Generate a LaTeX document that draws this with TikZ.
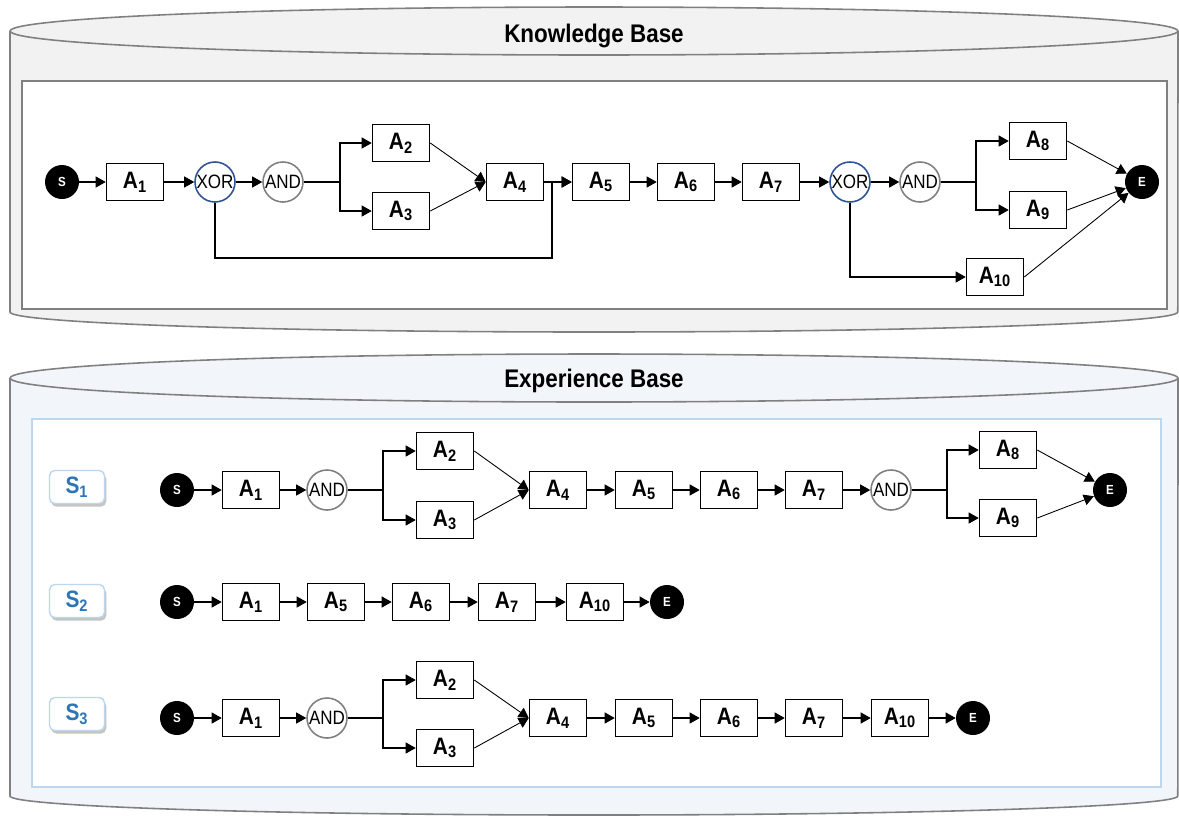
\documentclass[tikz,border=0pt]{standalone}
\usepackage{fontspec}
\setmainfont{Liberation Sans}[FakeStretch=0.88]
\usepackage{tikz}
\usetikzlibrary{positioning,arrows.meta,shadows}
\definecolor{kbgray}{RGB}{242,242,242}
\definecolor{ebblue}{RGB}{242,246,251}
\definecolor{rimgray}{RGB}{128,128,128}
\definecolor{paneblue}{RGB}{189,215,238}
\definecolor{xorblue}{RGB}{47,84,150}
\definecolor{tagblue}{RGB}{46,117,182}
\newcommand{\actv}[1]{A\textsubscript{#1}}

\begin{document}
\begin{tikzpicture}[x=0.02cm, y=-0.02cm, act/.style={draw, fill=white, line width=0.9pt, minimum width=1.14cm, minimum height=0.74cm, inner sep=0pt, font=\fontsize{13.5}{15}\selectfont\bfseries}, gate/.style={circle, draw=rimgray, fill=white, line width=0.9pt, minimum size=0.8cm, inner sep=0pt, font=\fontsize{11}{12}\selectfont}, xorgate/.style={gate, draw=xorblue}, term/.style={circle, fill=black, text=white, minimum size=0.68cm, inner sep=0pt, font=\fontsize{7.5}{8}\selectfont\bfseries}, flow/.style={-{Triangle[length=2mm,width=2.2mm]}, line width=0.6pt}, link/.style={line width=0.6pt}, slant/.style={flow, line width=0.5pt}, tag/.style={draw=paneblue, fill=white, rounded corners=3pt, line width=0.8pt, minimum width=1.1cm, minimum height=0.66cm, text=tagblue, font=\fontsize{13.5}{15}\selectfont\bfseries, drop shadow={shadow xshift=1pt, shadow yshift=-1.8pt, fill=black!45}}, title/.style={anchor=base, font=\fontsize{14.5}{16}\selectfont\bfseries}]
\useasboundingbox (0,0) rectangle (1179,816);

% knowledge base cylinder
\fill[kbgray] (10,31) -- (10,312) arc[start angle=180, end angle=360, x radius=11.68cm, y radius=0.4cm] -- (1178,31) arc[start angle=0, end angle=180, x radius=11.68cm, y radius=0.48cm] -- cycle;
\draw[rimgray, line width=0.9pt] (10,31) -- (10,312) arc[start angle=180, end angle=360, x radius=11.68cm, y radius=0.4cm] -- (1178,31);
\draw[rimgray, line width=0.9pt] (594,31) ellipse[x radius=11.68cm, y radius=0.48cm];
\node[title] (kbtitle) at (594,42) {Knowledge Base};
\draw[rimgray, fill=white, line width=0.9pt] (22,81) rectangle (1167,309);

% experience base cylinder
\fill[ebblue] (10,378) -- (10,796) arc[start angle=180, end angle=360, x radius=11.68cm, y radius=0.38cm] -- (1178,378) arc[start angle=0, end angle=180, x radius=11.68cm, y radius=0.48cm] -- cycle;
\draw[rimgray, line width=0.9pt] (10,378) -- (10,796) arc[start angle=180, end angle=360, x radius=11.68cm, y radius=0.38cm] -- (1178,378);
\draw[rimgray, line width=0.9pt] (594,378) ellipse[x radius=11.68cm, y radius=0.48cm];
\node[title] (ebtitle) at (594,387) {Experience Base};
\draw[paneblue, fill=white, line width=1pt] (32,419) rectangle (1161,787);

% knowledge base process
\node[term] (ks) at (62,182) {S};
\node[act] (ka1) at (135,182) {\actv{1}};
\node[xorgate] (kxor1) at (215,182) {XOR};
\node[gate] (kand1) at (283,182) {AND};
\coordinate (ksplit1) at (340,182);
\node[act] (ka2) at (401,143) {\actv{2}};
\node[act] (ka3) at (401,211) {\actv{3}};
\node[act] (ka4) at (515,182) {\actv{4}};
\node[act] (ka5) at (601,182) {\actv{5}};
\node[act] (ka6) at (686,182) {\actv{6}};
\node[act] (ka7) at (771,182) {\actv{7}};
\node[xorgate] (kxor2) at (850,182) {XOR};
\node[gate] (kand2) at (920,182) {AND};
\coordinate (ksplit2) at (976,182);
\node[act] (ka8) at (1038,141) {\actv{8}};
\node[act] (ka9) at (1038,210) {\actv{9}};
\node[act] (ka10) at (995,277) {\actv{10}};
\node[term] (ke) at (1142,182) {E};
\coordinate (kbyp) at (552,258);
\draw[flow] (ks) -- (ka1);
\draw[flow] (ka1) -- (kxor1);
\draw[flow] (kxor1) -- (kand1);
\draw[link] (kand1) -- (ksplit1);
\draw[flow] (ksplit1) |- (ka2);
\draw[flow] (ksplit1) |- (ka3);
\draw[slant] (ka2.east) -- (ka4.west);
\draw[slant] (ka3.east) -- (ka4.west);
\draw[flow] (ka4) -- (ka5);
\draw[flow] (kxor1) |- (kbyp) |- (ka5.west);
\draw[flow] (ka5) -- (ka6);
\draw[flow] (ka6) -- (ka7);
\draw[flow] (ka7) -- (kxor2);
\draw[flow] (kxor2) -- (kand2);
\draw[link] (kand2) -- (ksplit2);
\draw[flow] (ksplit2) |- (ka8);
\draw[flow] (ksplit2) |- (ka9);
\draw[flow] (kxor2) |- (ka10);
\draw[slant] (ka8.east) -- (ke);
\draw[slant] (ka9.east) -- (ke);
\draw[slant] (ka10.east) -- (ke);

% scenario tags
\node[tag] (tag1) at (77,487) {S\textsubscript{1}};
\node[tag] (tag2) at (77,601) {S\textsubscript{2}};
\node[tag] (tag3) at (77,714) {S\textsubscript{3}};

% scenario 1
\node[term] (us) at (177,490) {S};
\node[act] (ua1) at (251,490) {\actv{1}};
\node[gate] (uand1) at (327,490) {AND};
\coordinate (usplit1) at (383,490);
\node[act] (ua2) at (445,451) {\actv{2}};
\node[act] (ua3) at (445,520) {\actv{3}};
\node[act] (ua4) at (558,490) {\actv{4}};
\node[act] (ua5) at (644,490) {\actv{5}};
\node[act] (ua6) at (729,490) {\actv{6}};
\node[act] (ua7) at (814,490) {\actv{7}};
\node[gate] (uand2) at (891,490) {AND};
\coordinate (usplit2) at (947,490);
\node[act] (ua8) at (1008,450) {\actv{8}};
\node[act] (ua9) at (1008,518) {\actv{9}};
\node[term] (ue) at (1110,490) {E};
\draw[flow] (us) -- (ua1);
\draw[flow] (ua1) -- (uand1);
\draw[link] (uand1) -- (usplit1);
\draw[flow] (usplit1) |- (ua2);
\draw[flow] (usplit1) |- (ua3);
\draw[slant] (ua2.east) -- (ua4.west);
\draw[slant] (ua3.east) -- (ua4.west);
\draw[flow] (ua4) -- (ua5);
\draw[flow] (ua5) -- (ua6);
\draw[flow] (ua6) -- (ua7);
\draw[flow] (ua7) -- (uand2);
\draw[link] (uand2) -- (usplit2);
\draw[flow] (usplit2) |- (ua8);
\draw[flow] (usplit2) |- (ua9);
\draw[slant] (ua8.east) -- (ue);
\draw[slant] (ua9.east) -- (ue);

% scenario 2
\node[term] (vs) at (177,602) {S};
\node[act] (va1) at (251,602) {\actv{1}};
\node[act] (va5) at (336,602) {\actv{5}};
\node[act] (va6) at (421,602) {\actv{6}};
\node[act] (va7) at (507,602) {\actv{7}};
\node[act] (va10) at (595,602) {\actv{10}};
\node[term] (ve) at (667,602) {E};
\draw[flow] (vs) -- (va1);
\draw[flow] (va1) -- (va5);
\draw[flow] (va5) -- (va6);
\draw[flow] (va6) -- (va7);
\draw[flow] (va7) -- (va10);
\draw[flow] (va10) -- (ve);

% scenario 3
\node[term] (ws) at (177,718) {S};
\node[act] (wa1) at (251,718) {\actv{1}};
\node[gate] (wand1) at (327,718) {AND};
\coordinate (wsplit1) at (383,718);
\node[act] (wa2) at (445,680) {\actv{2}};
\node[act] (wa3) at (445,748) {\actv{3}};
\node[act] (wa4) at (558,718) {\actv{4}};
\node[act] (wa5) at (644,718) {\actv{5}};
\node[act] (wa6) at (729,718) {\actv{6}};
\node[act] (wa7) at (814,718) {\actv{7}};
\node[act] (wa10) at (900,718) {\actv{10}};
\node[term] (we) at (973,718) {E};
\draw[flow] (ws) -- (wa1);
\draw[flow] (wa1) -- (wand1);
\draw[link] (wand1) -- (wsplit1);
\draw[flow] (wsplit1) |- (wa2);
\draw[flow] (wsplit1) |- (wa3);
\draw[slant] (wa2.east) -- (wa4.west);
\draw[slant] (wa3.east) -- (wa4.west);
\draw[flow] (wa4) -- (wa5);
\draw[flow] (wa5) -- (wa6);
\draw[flow] (wa6) -- (wa7);
\draw[flow] (wa7) -- (wa10);
\draw[flow] (wa10) -- (we);
\end{tikzpicture}
\end{document}
